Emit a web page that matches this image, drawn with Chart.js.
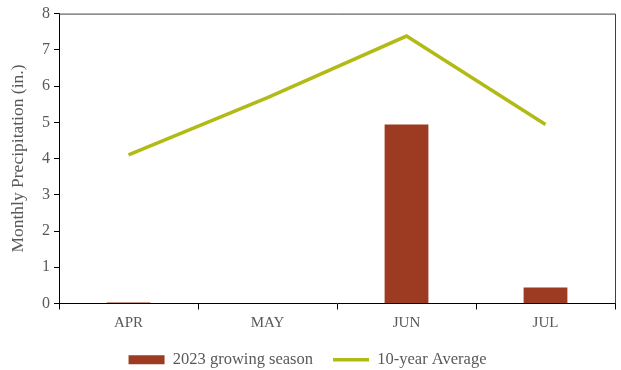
<!DOCTYPE html>
<html>
<head>
<meta charset="utf-8">
<script src="https://cdn.jsdelivr.net/npm/chart.js@4.4.1/dist/chart.umd.min.js"></script>
<style>
  html, body { margin: 0; padding: 0; background: #fff; }
  #wrap { width: 621px; height: 370px; }
</style>
</head>
<body>
<div id="wrap"><canvas id="precipChart"></canvas></div>
<script>
// Monthly precipitation, inches
const months = ['APR', 'MAY', 'JUN', 'JUL'];
const season2023 = [0.03, 0, 4.94, 0.44];
const tenYearAvg = [4.10, 5.68, 7.38, 4.94];
const yTicks = [0, 1, 2, 3, 4, 5, 6, 7, 8];

const FONT = 'Liberation Serif';
const TEXT_GRAY = '#595959';

// box around the plot area (top and right sides)
const plotFrame = {
  id: 'plotFrame',
  afterDraw(chart) {
    const { ctx, chartArea: a } = chart;
    ctx.save();
    ctx.strokeStyle = '#404040';
    ctx.lineWidth = 1;
    ctx.beginPath();
    ctx.moveTo(a.left, a.top + 0.5);
    ctx.lineTo(a.right + 0.5, a.top + 0.5);
    ctx.lineTo(a.right + 0.5, a.bottom);
    ctx.stroke();
    ctx.restore();
  }
};

new Chart(document.getElementById('precipChart'), {
  type: 'bar',
  data: {
    labels: months,
    datasets: [
      {
        type: 'line',
        label: '10-year Average',
        data: tenYearAvg,
        borderColor: '#b2bb16',
        backgroundColor: '#b2bb16',
        borderWidth: 3.5,
        pointRadius: 0,
        pointStyle: 'line',
        tension: 0,
        order: 1
      },
      {
        label: '2023 growing season',
        data: season2023,
        backgroundColor: '#9c3a22',
        pointStyle: 'rect',
        categoryPercentage: 1,
        barPercentage: 0.315,
        order: 2
      }
    ]
  },
  options: {
    responsive: true,
    maintainAspectRatio: false,
    animation: false,
    layout: { padding: { top: 11, right: 6, bottom: -8, left: 0 } },
    plugins: {
      tooltip: { enabled: false },
      legend: {
        position: 'bottom',
        reverse: true,
        labels: {
          usePointStyle: true,
          pointStyleWidth: 36,
          boxHeight: 9,
          padding: 20,
          color: TEXT_GRAY,
          font: { family: FONT, size: 16.5 }
        }
      }
    },
    scales: {
      x: {
        grid: { display: true, drawOnChartArea: false, offset: true, tickLength: 6, color: '#000' },
        border: { color: '#000', width: 1 },
        ticks: { color: TEXT_GRAY, font: { family: FONT, size: 15 }, padding: 5 },
        afterFit(scale) { scale.height = 28; }
      },
      y: {
        min: 0,
        max: 8,
        afterBuildTicks(scale) { scale.ticks = yTicks.map(v => ({ value: v })); },
        grid: { display: true, drawOnChartArea: false, tickLength: 5, color: '#000' },
        border: { color: '#000', width: 1 },
        ticks: { color: TEXT_GRAY, font: { family: FONT, size: 16 }, padding: 4 },
        title: {
          display: true,
          text: 'Monthly Precipitation (in.)',
          color: TEXT_GRAY,
          font: { family: FONT, size: 17.5 },
          padding: { top: 8, bottom: 0 }
        },
        afterFit(scale) { scale.width = 59; }
      }
    }
  },
  plugins: [plotFrame]
});
</script>
</body>
</html>
